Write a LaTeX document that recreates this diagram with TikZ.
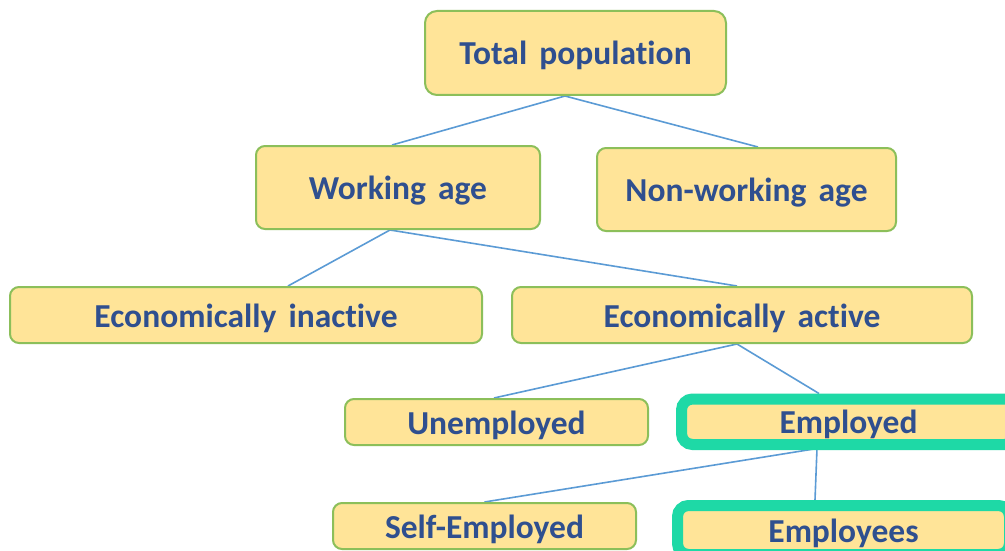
\documentclass[tikz,border=0pt]{standalone}
\usepackage{fontspec}
\setmainfont{Carlito}[WordSpace={1.6,1,1}, Ligatures=NoCommon]
\usetikzlibrary{backgrounds}
\definecolor{boxfill}{HTML}{FFE498}
\definecolor{boxedge}{HTML}{8CBF5A}
\definecolor{labelblue}{HTML}{2F4F8F}
\definecolor{linkblue}{HTML}{5B9BD5}
\definecolor{focus}{HTML}{1ED9A6}
\begin{document}
\begin{tikzpicture}[x=1pt,y=-1pt,
  label font/.style={font=\fontsize{33.5}{36}\selectfont\bfseries, text=labelblue,
    text height=27pt, text depth=3pt, inner sep=0pt, align=center},
  box/.style={draw=boxedge, line width=2pt, fill=boxfill, rounded corners=9pt, label font},
  hibox/.style={draw=focus, line width=11pt, fill=boxfill, rounded corners=11pt, label font},
  link/.style={draw=linkblue, line width=1.6pt}]
\useasboundingbox (0,0) rectangle (1005,551);
\clip (0,0) rectangle (1005,551);

% boxes
\node[box, rounded corners=12pt, minimum width=301pt, minimum height=84pt] (tp) at (575.5,53) {Total population};
\node[box, minimum width=284pt, minimum height=83pt] (wa) at (398,187.5) {Working age};
\node[box, minimum width=299pt, minimum height=83pt] (nwa) at (746.5,189.5) {Non-working age};
\node[box, minimum width=472pt, minimum height=56pt] (ei) at (246,315) {Economically inactive};
\node[box, minimum width=460pt, minimum height=56pt] (ea) at (742,315) {Economically active};
\node[box, minimum width=303pt, minimum height=46pt] (un) at (496.5,422) {Unemployed};
\node[hibox, minimum width=334pt, minimum height=45.5pt] (em) at (848.5,421.75) {Employed};
\node[box, minimum width=303pt, minimum height=46pt] (ss) at (484.5,526) {Self-Employed};
\node[hibox, minimum width=332pt, minimum height=49pt] (ee) at (843.5,530) {Employees};

% white page and tree connectors, kept behind the boxes
\begin{scope}[on background layer]
\fill[white] (0,0) rectangle (1005,551);
\draw[link] ([xshift=-10.5pt]tp.south) -- ([xshift=-6pt]wa.north);
\draw[link] ([xshift=-10.5pt]tp.south) -- ([xshift=11.5pt]nwa.north);
\draw[link] ([xshift=-8pt]wa.south) -- ([xshift=42pt]ei.north);
\draw[link] ([xshift=-8pt]wa.south) -- ([xshift=-5pt]ea.north);
\draw[link] ([xshift=-5pt]ea.south) -- ([xshift=-2.5pt]un.north);
\draw[link] ([xshift=-5pt]ea.south) -- ([xshift=-29.5pt]em.north);
\draw[link] ([xshift=-31.5pt,yshift=1.5pt]em.south) -- (ss.north);
\draw[link] ([xshift=-31.5pt,yshift=1.5pt]em.south) -- ([xshift=-28.5pt]ee.north);
\end{scope}
\end{tikzpicture}
\end{document}
